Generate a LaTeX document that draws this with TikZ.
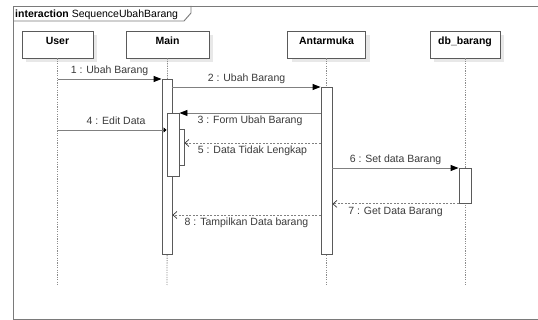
\documentclass[tikz,border=0pt]{standalone}
\usepackage{fontspec}
\setmainfont{Liberation Sans}
\usetikzlibrary{arrows.meta,shadows}
\definecolor{framegray}{HTML}{7A7A7A}
\definecolor{boxgray}{HTML}{5A5A5A}
\definecolor{msggray}{HTML}{808080}
\definecolor{dotgray}{HTML}{8C8C8C}
\definecolor{labelgray}{HTML}{3A3A3A}
\tikzset{
  every node/.style={font=\fontsize{10.5}{12}\selectfont},
  headbox/.style={draw=boxgray, line width=0.9pt, fill=white, minimum width=#1,
    minimum height=27pt, inner sep=0pt, text height=7.5pt, text depth=7.5pt,
    font=\bfseries\fontsize{10.5}{12}\selectfont, text=black,
    drop shadow={shadow xshift=4pt, shadow yshift=-4pt, fill=black!9, opacity=1}},
  actbox/.style={draw=boxgray, line width=0.9pt, fill=white, inner sep=0pt, anchor=north},
  lifeline/.style={draw=dotgray, line width=0.9pt, dash pattern=on 1.2pt off 1.2pt},
  syncmsg/.style={draw=msggray, line width=0.9pt, -{Triangle[length=8pt,width=6pt,fill=black,color=black]}},
  retmsg/.style={draw=msggray, line width=0.9pt, dash pattern=on 2pt off 1.5pt,
    -{Straight Barb[length=4pt,width=7pt,color=labelgray,line width=0.7pt]}},
  lblabove/.style={above=3pt, inner sep=0pt, text depth=2.2pt, text height=7.5pt, text=labelgray},
  lblbelow/.style={below=3pt, inner sep=0pt, text depth=2.2pt, text height=7.5pt, text=labelgray},
}
\begin{document}
\begin{tikzpicture}[x=1pt,y=-1pt]
\useasboundingbox (0,0) rectangle (538,320);

% interaction frame with its name tab
\draw[framegray, line width=0.9pt] (538,6) -- (13,6) -- (13,319) -- (538,319);
\draw[framegray, line width=0.9pt] (13,21) -- (184,21) -- (191,13) -- (191,6);
\node[anchor=west, inner sep=0pt, text=black] (frametitle) at (15,14.5)
  {\textbf{interaction} SequenceUbahBarang};

% lifeline heads
\node[headbox=71pt]  (user) at (57.5,44.5) {User};
\node[headbox=83pt]  (main) at (167.5,44.5) {Main};
\node[headbox=78pt]  (ui)   at (326.5,44.5) {Antarmuka};
\node[headbox=70pt]  (db)   at (465,44.5) {db\_barang};

% lifeline ends
\coordinate (userEnd) at (57.5,285);
\coordinate (mainEnd) at (167,285);
\coordinate (uiEnd)   at (326.5,285);
\coordinate (dbEnd)   at (465,285);

% dotted lifelines
\draw[lifeline] (user.south) -- (userEnd);
\draw[lifeline] (main.south) -- (mainEnd);
\draw[lifeline] (ui.south) -- (uiEnd);
\draw[lifeline] (db.south) -- (dbEnd);

% activation bars
\node[actbox, minimum width=10pt, minimum height=175pt] (actMain) at (167,79) {};
\node[actbox, minimum width=11pt, minimum height=167pt] (actUi) at (326.5,87) {};
\node[actbox, minimum width=12pt, minimum height=35pt] (actDb) at (465,168) {};
\node[actbox, minimum width=12pt, minimum height=63pt] (actMain2) at (173,113) {};
\node[actbox, minimum width=5pt, minimum height=36pt] (actMain3) at (181.5,129) {};

% message rows that do not start on a bar edge
\coordinate (row4) at (0,130);
\coordinate (row5) at (0,143);
\coordinate (row8) at (0,215);

% messages
\draw[syncmsg] (userEnd |- actMain.north west) -- (actMain.north west)
  node[lblabove, midway] (l1) {1 : Ubah Barang};
\draw[syncmsg] (actMain.east |- actUi.north west) -- (actUi.north west)
  node[lblabove, midway] (l2) {2 : Ubah Barang};
\draw[syncmsg] (actUi.west |- actMain2.north east) -- (actMain2.north east)
  node[lblbelow, midway] (l3) {3 : Form Ubah Barang};
\draw[draw=msggray, line width=0.9pt, -{Triangle[length=3pt,width=5pt,fill=black,color=black]}]
  (userEnd |- row4) -- (actMain2.west |- row4)
  node[lblabove, midway, xshift=4pt] (l4) {4 : Edit Data};
\draw[retmsg] (actUi.west |- row5) -- (actMain3.east |- row5)
  node[lblbelow, midway] (l5) {5 : Data Tidak Lengkap};
\draw[syncmsg] (actUi.east |- actDb.north west) -- (actDb.north west)
  node[lblabove, midway] (l6) {6 : Set data Barang};
\draw[retmsg] (actDb.south west) -- (actUi.east |- actDb.south west)
  node[lblbelow, midway] (l7) {7 : Get Data Barang};
\draw[retmsg] (actUi.west |- row8) -- (actMain.east |- row8)
  node[lblbelow, midway] (l8) {8 : Tampilkan Data barang};
\end{tikzpicture}
\end{document}
